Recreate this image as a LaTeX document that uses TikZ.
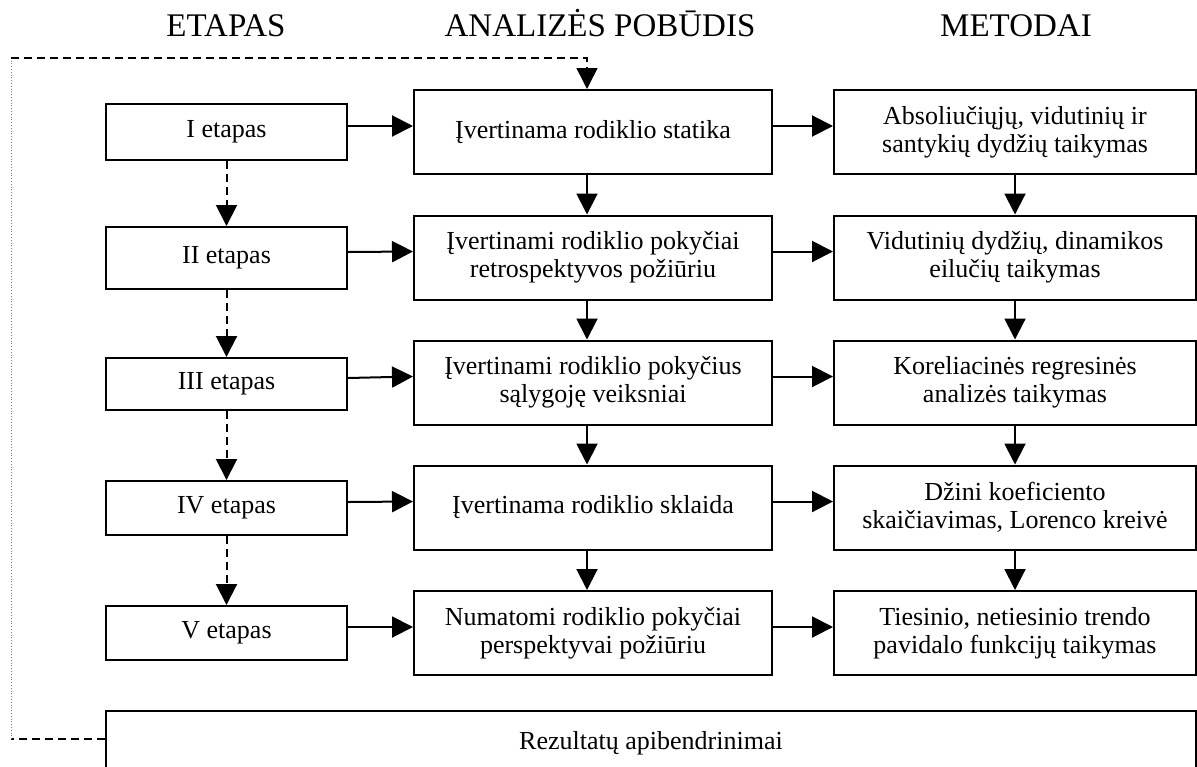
\documentclass[tikz,border=0pt]{standalone}
\usepackage{fontspec}
\setmainfont{Liberation Serif}
\usetikzlibrary{arrows.meta}
\begin{document}
\begin{tikzpicture}[x=0.5pt,y=-0.5pt,
    every node/.style={font=\fontsize{13}{14.2}\selectfont, align=center, inner sep=0pt},
    box/.style={draw, line width=1pt},
    arr/.style={line width=1pt, -{Triangle[length=10.5pt,width=10.5pt]}},
    fb/.style={line width=0.75pt, dash pattern=on 4pt off 2.5pt}]
  \clip (0,0) rectangle (1197,766);

  % Column headings
  \node[font=\fontsize{16.5}{18}\selectfont, anchor=base] (hEtap) at (226,36) {ETAPAS};
  \node[font=\fontsize{16.5}{18}\selectfont, anchor=base] (hAnal) at (600,36) {ANALIZĖS POBŪDIS};
  \node[font=\fontsize{16.5}{18}\selectfont, anchor=base] (hMet) at (1016,36) {METODAI};

  % Stages
  \node[box, minimum width=120.5pt, minimum height=28pt] (e1) at (226.5,132) {I etapas};
  \node[box, minimum width=120.5pt, minimum height=31pt] (e2) at (226.5,258) {II etapas};
  \node[box, minimum width=120.5pt, minimum height=26pt] (e3) at (226.5,384) {III etapas};
  \node[box, minimum width=120.5pt, minimum height=27pt] (e4) at (226.5,508) {IV etapas};
  \node[box, minimum width=120.5pt, minimum height=27pt] (e5) at (226.5,633) {V etapas};

  % Kind of analysis
  \node[box, minimum width=179pt, minimum height=42pt] (a1) at (593,132) {Įvertinama rodiklio statika};
  \node[box, minimum width=179pt, minimum height=42pt] (a2) at (593,257.5) {Įvertinami rodiklio pokyčiai\\retrospektyvos požiūriu};
  \node[box, minimum width=179pt, minimum height=42pt] (a3) at (593,382.5) {Įvertinami rodiklio pokyčius\\sąlygoję veiksniai};
  \node[box, minimum width=179pt, minimum height=42pt] (a4) at (593,507.5) {Įvertinama rodiklio sklaida};
  \node[box, minimum width=179pt, minimum height=42pt] (a5) at (593,633) {Numatomi rodiklio pokyčiai\\perspektyvai požiūriu};

  % Methods
  \node[box, minimum width=181pt, minimum height=42pt] (m1) at (1015,132) {Absoliučiųjų, vidutinių ir\\santykių dydžių taikymas};
  \node[box, minimum width=181pt, minimum height=42pt] (m2) at (1015,257.5) {Vidutinių dydžių, dinamikos\\eilučių taikymas};
  \node[box, minimum width=181pt, minimum height=42pt] (m3) at (1015,382.5) {Koreliacinės regresinės\\analizės taikymas};
  \node[box, minimum width=181pt, minimum height=42pt] (m4) at (1015,507.5) {Džini koeficiento\\skaičiavimas, Lorenco kreivė};
  \node[box, minimum width=181pt, minimum height=42pt] (m5) at (1015,633) {Tiesinio, netiesinio trendo\\pavidalo funkcijų taikymas};

  % Results
  \node[box, minimum width=545pt, minimum height=32pt] (res) at (651,743) {Rezultatų apibendrinimai};

  % Arrows across the rows
  \foreach \i in {1,...,5} {
    \draw[arr] ([yshift=3pt]e\i.east) -- ([yshift=3pt]a\i.west);
    \draw[arr] ([yshift=3pt]a\i.east) -- ([yshift=3pt]m\i.west);
  }

  % Arrows down the columns
  \foreach \i/\j in {1/2,2/3,3/4,4/5} {
    \draw[arr, fb, line width=1pt] (e\i.south) -- (e\j.north);
    \draw[arr] ([xshift=-3pt]a\i.south) -- ([xshift=-3pt]a\j.north);
    \draw[arr] (m\i.south) -- (m\j.north);
  }

  % Feedback line
  \coordinate (fbLow) at (11,739);
  \coordinate (fbTop) at (11,58);
  \draw[fb] (fbLow -| res.west) -- (fbLow);
  \draw[thin, gray, densely dotted] (fbLow) -- (fbTop);
  \draw[arr, fb] (fbTop) -| ([xshift=-3pt]a1.north);
\end{tikzpicture}
\end{document}
